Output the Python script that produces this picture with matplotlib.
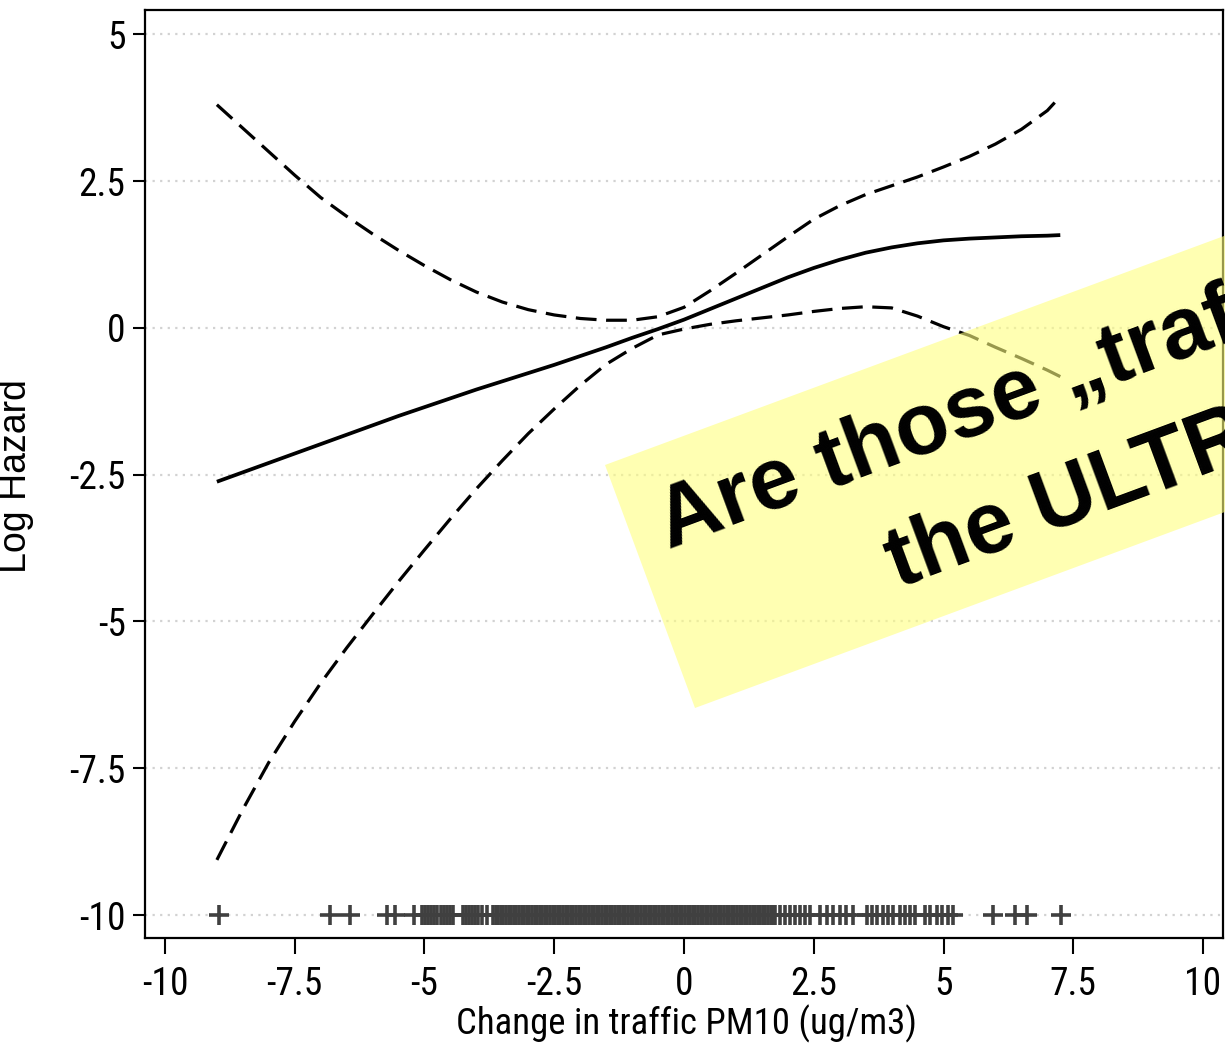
import matplotlib
matplotlib.use("Agg")
import matplotlib.pyplot as plt
from matplotlib.patches import Polygon

plt.rcParams['axes.unicode_minus'] = False

# smooth fit and confidence band
fit_x = [-9, -8.5, -8, -7.5, -7, -6.5, -6, -5.5, -5, -4.5, -4, -3.5, -3, -2.5, -2, -1.5,
         -1, -0.5, 0, 0.5, 1, 1.5, 2, 2.5, 3, 3.5, 4, 4.5, 5, 5.5, 6, 6.5, 7, 7.25]
fit_y = [-2.62, -2.46, -2.30, -2.14, -1.98, -1.82, -1.66, -1.50, -1.35, -1.20, -1.05,
         -0.91, -0.77, -0.63, -0.48, -0.33, -0.17, -0.02, 0.14, 0.32, 0.50, 0.68, 0.86,
         1.02, 1.16, 1.28, 1.37, 1.44, 1.49, 1.52, 1.54, 1.56, 1.57, 1.58]

upper_x = fit_x
upper_y = [3.80, 3.40, 3.00, 2.60, 2.22, 1.90, 1.60, 1.32, 1.06, 0.82, 0.61, 0.44, 0.31,
           0.22, 0.16, 0.13, 0.13, 0.19, 0.35, 0.63, 0.93, 1.24, 1.55, 1.85, 2.08, 2.27,
           2.42, 2.57, 2.74, 2.92, 3.13, 3.38, 3.70, 3.94]

lower_x = fit_x
lower_y = [-9.06, -8.20, -7.40, -6.70, -6.05, -5.45, -4.88, -4.32, -3.78, -3.25, -2.74,
           -2.26, -1.80, -1.38, -0.98, -0.62, -0.35, -0.12, -0.02, 0.06, 0.12, 0.17,
           0.22, 0.28, 0.33, 0.36, 0.34, 0.20, 0.02, -0.13, -0.33, -0.52, -0.72, -0.83]

# observed exposure values (rug at the bottom)
rug_x = [-8.95, -6.83, -6.43, -5.73, -5.57, -5.20,
         -5.05, -4.99, -4.93, -4.87, -4.81, -4.75, -4.69, -4.63, -4.57, -4.51, -4.45,
         -4.26, -4.20, -4.14, -4.08, -4.02, -3.96, -3.90, -3.80,
         -3.68, -3.63, -3.58, -3.53, -3.48, -3.43, -3.38, -3.33, -3.28, -3.23,
         -3.18, -3.13, -3.08, -3.03, -2.98, -2.93, -2.88, -2.83, -2.78, -2.73,
         -2.68, -2.63, -2.58, -2.53, -2.48, -2.43, -2.38, -2.33, -2.28, -2.23,
         -2.18, -2.13, -2.08, -2.03, -1.98, -1.93, -1.88, -1.83, -1.78, -1.73,
         -1.68, -1.63, -1.58, -1.53, -1.48, -1.43, -1.38, -1.33, -1.28, -1.23,
         -1.18, -1.13, -1.08, -1.03, -0.98, -0.93, -0.88, -0.83, -0.78, -0.73,
         -0.68, -0.63, -0.58, -0.53, -0.48, -0.43, -0.38, -0.33, -0.28, -0.23,
         -0.18, -0.13, -0.08, -0.03, 0.02, 0.07, 0.12, 0.17, 0.22, 0.27,
         0.32, 0.37, 0.42, 0.47, 0.52, 0.57, 0.62, 0.67, 0.72, 0.77,
         0.82, 0.87, 0.92, 0.97, 1.02, 1.07, 1.12, 1.17, 1.22, 1.27,
         1.32, 1.37, 1.42, 1.47, 1.52, 1.57, 1.62, 1.67, 1.71,
         1.75, 1.85, 1.95, 2.04, 2.14, 2.24, 2.33, 2.43, 2.62, 2.75, 2.88, 3.01,
         3.13, 3.26, 3.52, 3.62, 3.71, 3.84, 3.94, 4.03, 4.16, 4.26, 4.35, 4.45,
         4.64, 4.74, 4.87, 4.97, 5.09, 5.19, 5.95, 6.38, 6.60, 7.27]
rug_level = -10

x_ticks = [-10, -7.5, -5, -2.5, 0, 2.5, 5, 7.5, 10]
x_labels = ['-10', '-7.5', '-5', '-2.5', '0', '2.5', '5', '7.5', '10']
y_ticks = [5, 2.5, 0, -2.5, -5, -7.5, -10]
y_labels = ['5', '2.5', '0', '-2.5', '-5', '-7.5', '-10']

W, H = 1225, 1044
fig = plt.figure(figsize=(W / 100, H / 100), dpi=100)
ax = fig.add_axes([145 / W, 1 - 938 / H, 1078 / W, 928 / H])

narrow = ['Roboto Condensed', 'Liberation Sans']

ax.plot(fit_x, fit_y, color='black', lw=2.7, solid_capstyle='butt', zorder=3)
ax.plot(upper_x, upper_y, color='black', lw=2.3, dashes=(6.5, 3), zorder=3)
ax.plot(lower_x, lower_y, color='black', lw=2.3, dashes=(6.5, 3), zorder=3)
ax.plot(rug_x, [rug_level] * len(rug_x), linestyle='none', marker='+',
        ms=15, mew=2.6, color='#404040', zorder=3)

ax.set_xlim(-10.385, 10.385)
ax.set_ylim(-10.39, 5.413)
ax.set_xticks(x_ticks)
ax.set_xticklabels(x_labels, fontfamily=narrow, fontsize=27)
ax.set_yticks(y_ticks)
ax.set_yticklabels(y_labels, fontfamily=narrow, fontsize=27)
ax.tick_params(axis='x', length=11.5, width=1.5, pad=9, direction='out')
ax.tick_params(axis='y', length=9, width=1.5, pad=5, direction='out')
ax.yaxis.grid(True, color='#d2d2d2', lw=1.6, linestyle=(0, (1, 2.4)))
ax.set_axisbelow(True)
for s in ax.spines.values():
    s.set_linewidth(1.6)

ax.set_xlabel('Change in traffic PM10 (ug/m3)', fontfamily=narrow, fontsize=26.5)
ax.xaxis.set_label_coords((686 - 145) / 1078, -(1005 - 938) / 928)
ax.set_ylabel('Log Hazard', fontfamily='Liberation Sans', fontsize=27)
ax.yaxis.set_label_coords(-(145 - 34) / 1078, (938 - 476) / 928)

# yellow callout banner on top of the plot
tl = (605, 465)
bl = (695, 708)
dx, dy = 0.938, -0.347
L = 900
corners = [tl, (tl[0] + L * dx, tl[1] + L * dy), (bl[0] + L * dx, bl[1] + L * dy), bl]
banner = Polygon([(x / W, 1 - y / H) for x, y in corners], closed=True,
                 transform=fig.transFigure, facecolor='#ffff80', alpha=0.6,
                 edgecolor='none', zorder=5)
fig.add_artist(banner)

fig.text(668 / W, 1 - 548 / H, 'Are those \u201etraff', fontfamily='Liberation Sans',
         fontweight='bold', fontsize=63, rotation=20.3, rotation_mode='anchor',
         ha='left', va='baseline', zorder=6)
fig.text(898 / W, 1 - 588 / H, 'the ULTR', fontfamily='Liberation Sans',
         fontweight='bold', fontsize=63, rotation=20.3, rotation_mode='anchor',
         ha='left', va='baseline', zorder=6)

fig.savefig('out.png', dpi=100)
